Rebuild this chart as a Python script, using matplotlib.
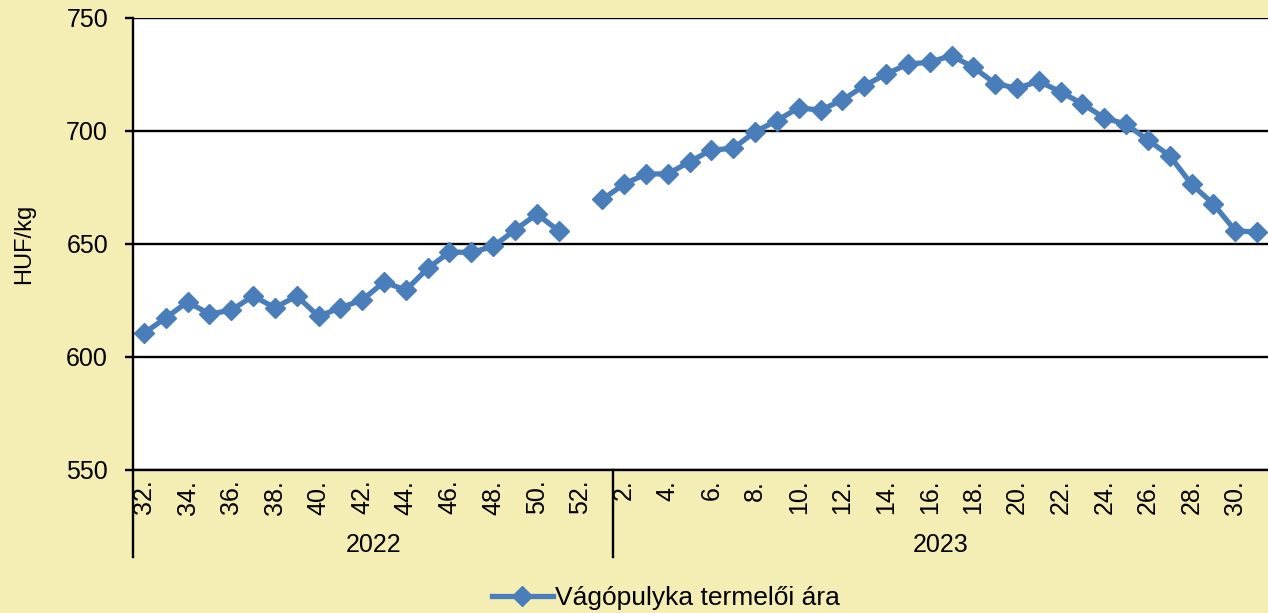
import matplotlib.pyplot as plt
import numpy as np

plt.rcParams['font.family'] = ['Liberation Sans', 'DejaVu Sans']

# weekly producer price of slaughter turkey (HUF/kg)
weeks_2022 = [32, 33, 34, 35, 36, 37, 38, 39, 40, 41, 42, 43, 44, 45, 46, 47, 48, 49, 50, 51, 52, 53]
prices_2022 = [610.5, 617.3, 624.4, 619.0, 620.7, 627.0, 621.8, 627.0, 618.0, 621.8, 625.2,
               633.2, 629.6, 639.2, 646.4, 646.3, 648.9, 656.2, 663.2, 655.9, np.nan, 669.7]
weeks_2023 = [2, 3, 4, 5, 6, 7, 8, 9, 10, 11, 12, 13, 14, 15, 16, 17, 18, 19, 20, 21,
              22, 23, 24, 25, 26, 27, 28, 29, 30, 31]
prices_2023 = [676.5, 681.0, 681.0, 686.4, 691.6, 692.3, 699.7, 704.6, 710.3, 709.2,
               713.7, 720.0, 725.2, 729.6, 730.4, 733.4, 728.2, 721.0, 718.9, 722.0,
               717.3, 712.0, 705.8, 703.0, 696.0, 689.0, 676.4, 667.7, 655.9, 655.2]
years = ['2022', '2023']

labels = [f'{w}.' for w in weeks_2022] + [f'{w}.' for w in weeks_2023]
values = prices_2022 + prices_2023
x = np.arange(len(values))

bg = '#F4EDB4'
blue = '#4A7EBB'

fig = plt.figure(figsize=(12.68, 6.13), dpi=100, facecolor=bg)
ax = fig.add_axes([133 / 1268, 1 - 470 / 613, 1 - 133 / 1268, (470 - 18) / 613])
ax.set_facecolor('white')

ax.plot(x, values, color=blue, linewidth=3.8, marker='D', markersize=10.5,
        markeredgecolor=blue, markerfacecolor=blue, label='Vágópulyka termelői ára')

ax.set_ylim(550, 750)
ax.set_yticks([550, 600, 650, 700, 750])
ax.set_xlim(-0.5, len(values) - 0.5)
ax.yaxis.grid(True, color='black', linewidth=1.7)
ax.set_axisbelow(True)

for s in ['top', 'right']:
    ax.spines[s].set_visible(False)
for s in ['left', 'bottom']:
    ax.spines[s].set_linewidth(1.7)
    ax.spines[s].set_color('black')

ax.tick_params(axis='y', labelsize=18, length=6, width=1.7, pad=12)
ax.set_xticks(x[::2])
ax.set_xticklabels(labels[::2], rotation=90, fontsize=18)
ax.tick_params(axis='x', length=0, pad=7)

ax.set_ylabel('HUF/kg', fontsize=17)
ax.yaxis.set_label_coords(-0.086, 0.5)

# year groups under the category axis
n22 = len(weeks_2022)
tr = ax.get_xaxis_transform()
for xb in [-0.5, n22 - 0.5]:
    ax.plot([xb, xb], [0, -0.1925], transform=tr, color='black', linewidth=1.7, clip_on=False)
centers = [(n22 - 1) / 2, n22 + (len(weeks_2023) - 1) / 2]
for c, yr in zip(centers, years):
    ax.text(c, -0.166, yr, transform=tr, ha='center', va='center', fontsize=18)

fig.legend(loc='center', bbox_to_anchor=(666 / 1268, 15 / 613), frameon=False,
           fontsize=19, handlelength=2.3, handletextpad=0.1)

fig.savefig('out.png', dpi=100, facecolor=bg)
plt.close()
